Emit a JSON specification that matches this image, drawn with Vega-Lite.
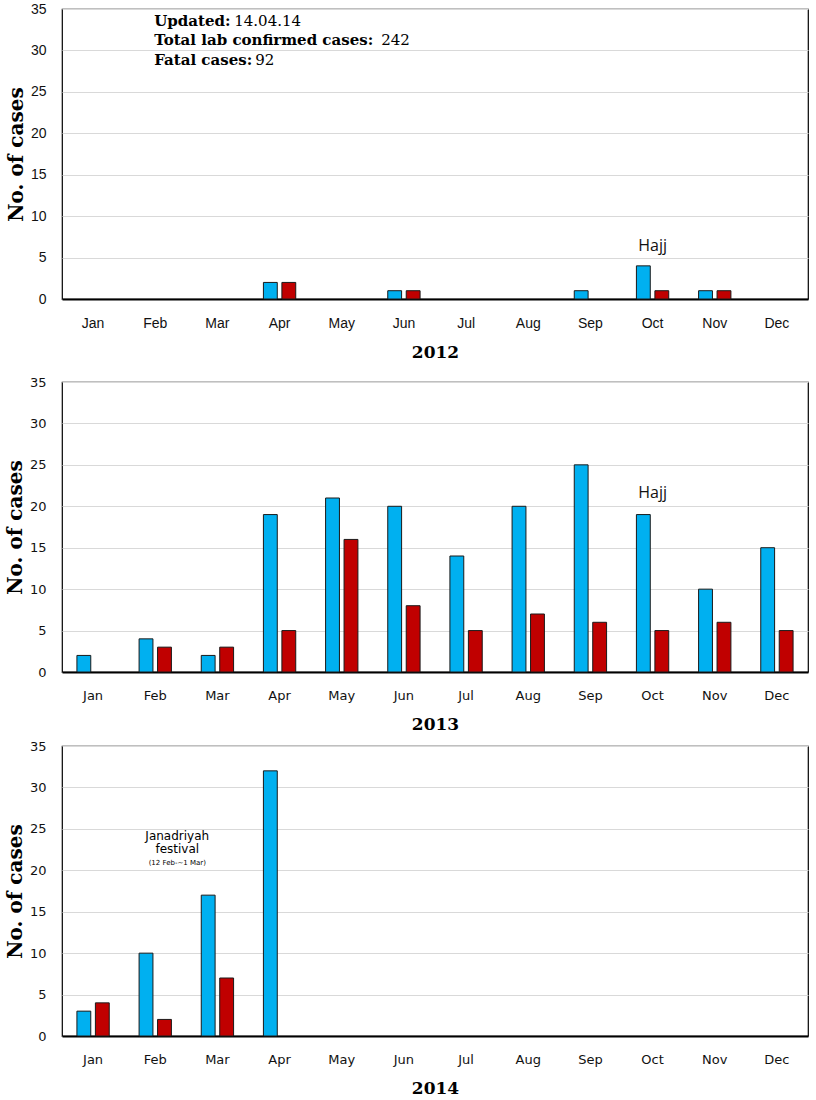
{
  "$schema": "https://vega.github.io/schema/vega-lite/v6.json",
  "background": "white",
  "padding": {"top": 1, "left": 4, "right": 0, "bottom": 0},
  "datasets": {
    "cases": [
      {"year": 2012, "month": "Apr", "series": "Cases", "count": 2},
      {"year": 2012, "month": "Apr", "series": "Fatal", "count": 2},
      {"year": 2012, "month": "Jun", "series": "Cases", "count": 1},
      {"year": 2012, "month": "Jun", "series": "Fatal", "count": 1},
      {"year": 2012, "month": "Sep", "series": "Cases", "count": 1},
      {"year": 2012, "month": "Oct", "series": "Cases", "count": 4},
      {"year": 2012, "month": "Oct", "series": "Fatal", "count": 1},
      {"year": 2012, "month": "Nov", "series": "Cases", "count": 1},
      {"year": 2012, "month": "Nov", "series": "Fatal", "count": 1},
      {"year": 2013, "month": "Jan", "series": "Cases", "count": 2},
      {"year": 2013, "month": "Feb", "series": "Cases", "count": 4},
      {"year": 2013, "month": "Feb", "series": "Fatal", "count": 3},
      {"year": 2013, "month": "Mar", "series": "Cases", "count": 2},
      {"year": 2013, "month": "Mar", "series": "Fatal", "count": 3},
      {"year": 2013, "month": "Apr", "series": "Cases", "count": 19},
      {"year": 2013, "month": "Apr", "series": "Fatal", "count": 5},
      {"year": 2013, "month": "May", "series": "Cases", "count": 21},
      {"year": 2013, "month": "May", "series": "Fatal", "count": 16},
      {"year": 2013, "month": "Jun", "series": "Cases", "count": 20},
      {"year": 2013, "month": "Jun", "series": "Fatal", "count": 8},
      {"year": 2013, "month": "Jul", "series": "Cases", "count": 14},
      {"year": 2013, "month": "Jul", "series": "Fatal", "count": 5},
      {"year": 2013, "month": "Aug", "series": "Cases", "count": 20},
      {"year": 2013, "month": "Aug", "series": "Fatal", "count": 7},
      {"year": 2013, "month": "Sep", "series": "Cases", "count": 25},
      {"year": 2013, "month": "Sep", "series": "Fatal", "count": 6},
      {"year": 2013, "month": "Oct", "series": "Cases", "count": 19},
      {"year": 2013, "month": "Oct", "series": "Fatal", "count": 5},
      {"year": 2013, "month": "Nov", "series": "Cases", "count": 10},
      {"year": 2013, "month": "Nov", "series": "Fatal", "count": 6},
      {"year": 2013, "month": "Dec", "series": "Cases", "count": 15},
      {"year": 2013, "month": "Dec", "series": "Fatal", "count": 5},
      {"year": 2014, "month": "Jan", "series": "Cases", "count": 3},
      {"year": 2014, "month": "Jan", "series": "Fatal", "count": 4},
      {"year": 2014, "month": "Feb", "series": "Cases", "count": 10},
      {"year": 2014, "month": "Feb", "series": "Fatal", "count": 2},
      {"year": 2014, "month": "Mar", "series": "Cases", "count": 17},
      {"year": 2014, "month": "Mar", "series": "Fatal", "count": 7},
      {"year": 2014, "month": "Apr", "series": "Cases", "count": 32}
    ],
    "summary": [
      {"month": "Feb", "y": 33.6, "label": "Updated:", "value": "14.04.14"},
      {"month": "Feb", "y": 31.2, "label": "Total lab confirmed cases:", "value": "242"},
      {"month": "Feb", "y": 28.9, "label": "Fatal cases:", "value": "92"}
    ]
  },
  "vconcat": [
    {
      "spacing": 14,
      "vconcat": [
        {
          "width": 746,
          "height": 290,
          "layer": [
            {
              "data": {"name": "cases"},
              "transform": [{"filter": "datum.year == 2012"}],
              "mark": {"type": "bar", "stroke": "#1a1a1a", "strokeWidth": 1},
              "encoding": {
                "x": {
                  "field": "month", "type": "nominal",
                  "scale": {"domain": ["Jan","Feb","Mar","Apr","May","Jun","Jul","Aug","Sep","Oct","Nov","Dec"], "paddingInner": 0.48, "paddingOuter": 0.24},
                  "axis": {"title": "2012", "labelFont": "Liberation Sans", "labelFontSize": 14}
                },
                "xOffset": {"field": "series", "type": "nominal", "scale": {"domain": ["Cases", "Fatal"], "paddingInner": 0.25}},
                "y": {
                  "field": "count", "type": "quantitative",
                  "scale": {"domain": [0, 35]},
                  "axis": {"values": [0,5,10,15,20,25,30,35], "title": "No. of cases", "labelFont": "Liberation Sans", "labelFontSize": 14}
                },
                "color": {"field": "series", "type": "nominal", "scale": {"domain": ["Cases", "Fatal"], "range": ["#00B0F0", "#C00000"]}, "legend": null}
              }
            },
            {
              "data": {"values": [{"month": "Oct", "y": 6.4, "label": "Hajj"}]},
              "mark": {"type": "text", "font": "Open Sans", "fontSize": 16, "color": "#111", "baseline": "middle"},
              "encoding": {
                "x": {"field": "month", "type": "nominal"},
                "y": {"field": "y", "type": "quantitative", "scale": {"domain": [0, 35]}},
                "text": {"field": "label"}
              }
            },
            {
              "data": {"name": "summary"},
              "mark": {"type": "text", "font": "DejaVu Serif", "fontWeight": "bold", "fontSize": 15, "align": "left", "baseline": "middle", "dx": -1, "color": "#000"},
              "encoding": {
                "x": {"field": "month", "type": "nominal"},
                "y": {"field": "y", "type": "quantitative", "scale": {"domain": [0, 35]}},
                "text": {"field": "label"}
              }
            },
            {
              "data": {"name": "summary"},
              "transform": [{"filter": "datum.label == 'Updated:'"}],
              "mark": {"type": "text", "font": "DejaVu Serif", "fontSize": 15, "align": "left", "baseline": "middle", "dx": 79, "color": "#000"},
              "encoding": {
                "x": {"field": "month", "type": "nominal"},
                "y": {"field": "y", "type": "quantitative", "scale": {"domain": [0, 35]}},
                "text": {"field": "value"}
              }
            },
            {
              "data": {"name": "summary"},
              "transform": [{"filter": "datum.label == 'Total lab confirmed cases:'"}],
              "mark": {"type": "text", "font": "DejaVu Serif", "fontSize": 15, "align": "left", "baseline": "middle", "dx": 226, "color": "#000"},
              "encoding": {
                "x": {"field": "month", "type": "nominal"},
                "y": {"field": "y", "type": "quantitative", "scale": {"domain": [0, 35]}},
                "text": {"field": "value"}
              }
            },
            {
              "data": {"name": "summary"},
              "transform": [{"filter": "datum.label == 'Fatal cases:'"}],
              "mark": {"type": "text", "font": "DejaVu Serif", "fontSize": 15, "align": "left", "baseline": "middle", "dx": 100, "color": "#000"},
              "encoding": {
                "x": {"field": "month", "type": "nominal"},
                "y": {"field": "y", "type": "quantitative", "scale": {"domain": [0, 35]}},
                "text": {"field": "value"}
              }
            }
          ]
        },
        {
          "width": 746,
          "height": 290,
          "layer": [
            {
              "data": {"name": "cases"},
              "transform": [{"filter": "datum.year == 2013"}],
              "mark": {"type": "bar", "stroke": "#1a1a1a", "strokeWidth": 1},
              "encoding": {
                "x": {
                  "field": "month", "type": "nominal",
                  "scale": {"domain": ["Jan","Feb","Mar","Apr","May","Jun","Jul","Aug","Sep","Oct","Nov","Dec"], "paddingInner": 0.48, "paddingOuter": 0.24},
                  "axis": {"title": "2013"}
                },
                "xOffset": {"field": "series", "type": "nominal", "scale": {"domain": ["Cases", "Fatal"], "paddingInner": 0.25}},
                "y": {
                  "field": "count", "type": "quantitative",
                  "scale": {"domain": [0, 35]},
                  "axis": {"values": [0,5,10,15,20,25,30,35], "title": "No. of cases"}
                },
                "color": {"field": "series", "type": "nominal", "scale": {"domain": ["Cases", "Fatal"], "range": ["#00B0F0", "#C00000"]}, "legend": null}
              }
            },
            {
              "data": {"values": [{"month": "Oct", "y": 21.6, "label": "Hajj"}]},
              "mark": {"type": "text", "font": "Open Sans", "fontSize": 16, "color": "#111", "baseline": "middle"},
              "encoding": {
                "x": {"field": "month", "type": "nominal"},
                "y": {"field": "y", "type": "quantitative", "scale": {"domain": [0, 35]}},
                "text": {"field": "label"}
              }
            }
          ]
        }
      ]
    },
    {
      "width": 746,
      "height": 290,
      "layer": [
        {
          "data": {"name": "cases"},
          "transform": [{"filter": "datum.year == 2014"}],
          "mark": {"type": "bar", "stroke": "#1a1a1a", "strokeWidth": 1},
          "encoding": {
            "x": {
              "field": "month", "type": "nominal",
              "scale": {"domain": ["Jan","Feb","Mar","Apr","May","Jun","Jul","Aug","Sep","Oct","Nov","Dec"], "paddingInner": 0.48, "paddingOuter": 0.24},
              "axis": {"title": "2014"}
            },
            "xOffset": {"field": "series", "type": "nominal", "scale": {"domain": ["Cases", "Fatal"], "paddingInner": 0.25}},
            "y": {
              "field": "count", "type": "quantitative",
              "scale": {"domain": [0, 35]},
              "axis": {"values": [0,5,10,15,20,25,30,35], "title": "No. of cases"}
            },
            "color": {"field": "series", "type": "nominal", "scale": {"domain": ["Cases", "Fatal"], "range": ["#00B0F0", "#C00000"]}, "legend": null}
          }
        },
        {
          "data": {"values": [
            {"month": "Feb", "y": 24.1, "label": "Janadriyah", "size": 12},
            {"month": "Feb", "y": 22.6, "label": "festival", "size": 12},
            {"month": "Feb", "y": 20.9, "label": "(12 Feb-~1 Mar)", "size": 7}
          ]},
          "mark": {"type": "text", "font": "DejaVu Sans", "color": "#000", "baseline": "middle", "dx": 22},
          "encoding": {
            "x": {"field": "month", "type": "nominal"},
            "y": {"field": "y", "type": "quantitative", "scale": {"domain": [0, 35]}},
            "text": {"field": "label"},
            "size": {"field": "size", "type": "quantitative", "scale": null, "legend": null}
          }
        }
      ]
    }
  ],
  "spacing": 6,
  "config": {
    "view": {"stroke": "#000", "strokeWidth": 1.2},
    "axisX": {
      "labelAngle": 0, "ticks": false, "grid": false,
      "domainColor": "#000", "domainWidth": 2,
      "labelFont": "DejaVu Sans", "labelFontSize": 13, "labelColor": "#111", "labelPadding": 17,
      "titleFont": "DejaVu Serif", "titleFontWeight": "bold", "titleFontSize": 17, "titleColor": "#000", "titlePadding": 14
    },
    "axisY": {
      "ticks": false, "domain": false, "grid": true, "gridColor": "#d9d9d9", "gridWidth": 1,
      "labelFont": "DejaVu Sans", "labelFontSize": 13, "labelColor": "#111", "labelPadding": 16,
      "titleFont": "DejaVu Serif", "titleFontWeight": "bold", "titleFontSize": 20, "titleColor": "#000", "titlePadding": 4
    }
  }
}
